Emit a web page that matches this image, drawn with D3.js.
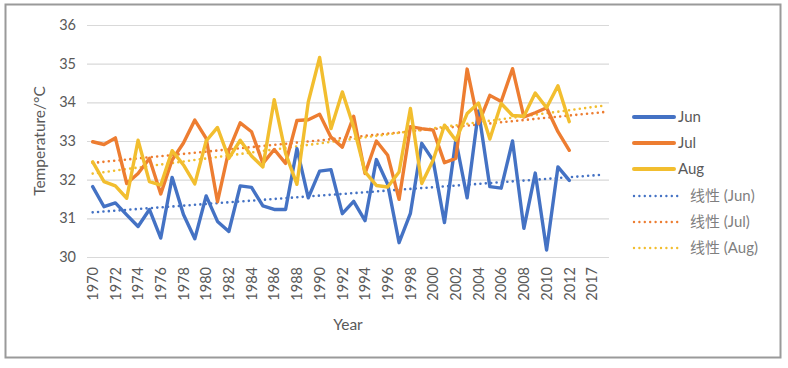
<!DOCTYPE html>
<html>
<head>
<meta charset="utf-8">
<script src="https://cdn.jsdelivr.net/npm/d3@7"></script>
<style>
  html, body { margin: 0; padding: 0; background: #fff; }
  svg { display: block; font-family: Lato, "Noto Sans CJK SC", sans-serif; }
</style>
</head>
<body>
<svg id="chart" width="788" height="368"></svg>
<script>
// ---- data ----
const categories = [1970,1971,1972,1973,1974,1975,1976,1977,1978,1979,
  1980,1981,1982,1983,1984,1985,1986,1987,1988,1989,
  1990,1991,1992,1993,1994,1995,1996,1997,1998,1999,
  2000,2001,2002,2003,2004,2005,2006,2007,2008,2009,
  2010,2011,2012];
const extraCategories = ["", "2017", ""];
const jun = [31.82,31.30,31.40,31.09,30.79,31.23,30.49,32.06,31.10,30.47,
  31.58,30.92,30.66,31.84,31.80,31.32,31.23,31.23,32.80,31.53,
  32.22,32.26,31.12,31.44,30.94,32.52,31.88,30.37,31.13,32.94,
  32.50,30.89,33.02,31.53,33.78,31.82,31.78,33.00,30.74,32.17,
  30.18,32.33,31.98];
const jul = [32.98,32.91,33.08,31.90,32.16,32.55,31.63,32.51,32.95,33.54,
  33.07,31.43,32.76,33.47,33.24,32.42,32.78,32.42,33.53,33.55,
  33.69,33.10,32.84,33.64,32.16,33.00,32.63,31.49,33.37,33.32,
  33.28,32.44,32.55,34.86,33.45,34.18,34.02,34.87,33.62,33.73,
  33.86,33.24,32.76];
const aug = [32.46,31.95,31.84,31.52,33.02,31.95,31.86,32.75,32.38,31.89,
  33.00,33.35,32.55,33.02,32.61,32.33,34.07,32.68,31.88,34.01,
  35.16,33.32,34.27,33.36,32.20,31.85,31.81,32.20,33.84,31.90,
  32.50,33.41,33.02,33.71,33.98,33.05,33.97,33.66,33.64,34.24,
  33.86,34.43,33.50];
const seriesNames = ["Jun", "Jul", "Aug"];
const trendNames = ["线性 (Jun)", "线性 (Jul)", "线性 (Aug)"];
const yTicks = [30, 31, 32, 33, 34, 35, 36];

// ---- styles ----
const colors = ["#4472C4", "#ED7D31", "#F2BE2F"];
const plot = { left: 87, right: 609, top: 25, bottom: 257 };

const svg = d3.select("#chart");

// outer border
svg.append("rect")
  .attr("x", 5.5).attr("y", 4.5).attr("width", 775).attr("height", 353)
  .attr("fill", "none").attr("stroke", "#9a9a9a").attr("stroke-width", 2);

const labels = categories.map(String).concat(extraCategories);
const slots = d3.range(labels.length);
const x = d3.scaleBand().domain(slots).range([plot.left, plot.right]).padding(0);
const cx = i => x(i) + x.bandwidth() / 2;
const y = d3.scaleLinear().domain([30, 36]).range([plot.bottom, plot.top]);

// gridlines
svg.append("g")
  .attr("transform", `translate(${plot.left},0)`)
  .call(d3.axisLeft(y).tickValues(yTicks).tickSize(-(plot.right - plot.left)).tickFormat(""))
  .call(g => g.select(".domain").remove())
  .call(g => g.selectAll("line").attr("stroke", "#d9d9d9").attr("stroke-width", 1.2));

// y labels
svg.append("g")
  .attr("transform", `translate(76,0)`)
  .call(d3.axisLeft(y).tickValues(yTicks).tickSize(0).tickPadding(0).tickFormat(d3.format("d")))
  .call(g => g.select(".domain").remove())
  .call(g => g.selectAll("text").attr("fill", "#595959").style("font-size", "14.5px")
    .style("font-family", "Lato, sans-serif"));

// x labels (every other category)
const labelIdx = slots.filter(i => i % 2 === 0 && labels[i] !== "");
svg.append("g")
  .selectAll("text")
  .data(labelIdx)
  .join("text")
  .attr("transform", i => `translate(${cx(i)},267) rotate(-90)`)
  .attr("text-anchor", "end")
  .attr("dy", "0.36em")
  .attr("fill", "#595959")
  .style("font-size", "14.5px")
  .text(i => labels[i]);

// axis titles
svg.append("text")
  .attr("transform", "translate(45,141) rotate(-90)")
  .attr("text-anchor", "middle")
  .attr("fill", "#595959")
  .style("font-size", "15.5px")
  .text("Temperature/°C");
svg.append("text")
  .attr("x", 348).attr("y", 330)
  .attr("text-anchor", "middle")
  .attr("fill", "#595959")
  .style("font-size", "15.5px")
  .text("Year");

const allSeries = [jun, jul, aug];

// trendlines (least squares, forecast forward)
function fit(vals) {
  const n = vals.length;
  const xs = d3.range(n);
  const mx = d3.mean(xs), my = d3.mean(vals);
  let sxy = 0, sxx = 0;
  xs.forEach((xi, k) => { sxy += (xi - mx) * (vals[k] - my); sxx += (xi - mx) ** 2; });
  const b = sxy / sxx, a = my - b * mx;
  return t => a + b * t;
}
const lastSlot = slots.length - 1;
allSeries.forEach((vals, k) => {
  const f = fit(vals);
  svg.append("line")
    .attr("x1", cx(0)).attr("y1", y(f(0)))
    .attr("x2", cx(lastSlot)).attr("y2", y(f(lastSlot)))
    .attr("stroke", colors[k]).attr("stroke-width", 2.6)
    .attr("stroke-linecap", "round").attr("stroke-dasharray", "0 5.4");
});

// data lines
const line = d3.line().x((d, i) => cx(i)).y(d => y(d)).curve(d3.curveLinear);
allSeries.forEach((vals, k) => {
  svg.append("path")
    .datum(vals)
    .attr("d", line)
    .attr("fill", "none")
    .attr("stroke", colors[k])
    .attr("stroke-width", 3.4)
    .attr("stroke-linejoin", "round")
    .attr("stroke-linecap", "round");
});

// legend
const legY = [117, 143, 169, 196, 222, 248];
seriesNames.forEach((name, k) => {
  svg.append("line")
    .attr("x1", 634).attr("x2", 674).attr("y1", legY[k]).attr("y2", legY[k])
    .attr("stroke", colors[k]).attr("stroke-width", 4).attr("stroke-linecap", "round");
  svg.append("text")
    .attr("x", 678).attr("y", legY[k]).attr("dy", "0.36em")
    .attr("fill", "#595959").style("font-size", "15px")
    .text(name);
});
trendNames.forEach((name, k) => {
  svg.append("line")
    .attr("x1", 634).attr("x2", 682).attr("y1", legY[k + 3]).attr("y2", legY[k + 3])
    .attr("stroke", colors[k]).attr("stroke-width", 2.4)
    .attr("stroke-linecap", "round").attr("stroke-dasharray", "0 5.4");
  svg.append("text")
    .attr("x", 690).attr("y", legY[k + 3]).attr("dy", "0.36em")
    .attr("fill", "#7f7f7f").style("font-size", "15px")
    .text(name);
});
</script>
</body>
</html>
